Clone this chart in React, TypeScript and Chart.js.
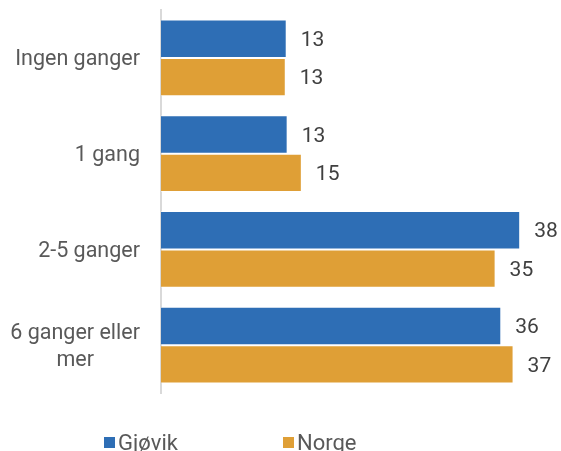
import React, { useEffect, useRef } from "react";
import { Chart, registerables } from "chart.js";

Chart.register(...registerables);

const categories: (string | string[])[] = [
  "Ingen ganger",
  "1 gang",
  "2-5 ganger",
  ["6 ganger eller", "mer"],
];
const gjovikValues = [13.3, 13.4, 38.0, 36.0];
const norgeValues = [13.2, 14.9, 35.4, 37.3];
const seriesNames = ["Gjøvik", "Norge"];
const seriesColors = ["#2E6EB5", "#DF9F36"];

const FONT = "Roboto, 'DejaVu Sans', sans-serif";

const labelsPlugin = {
  id: "customLabels",
  afterDraw(chart: any) {
    const ctx = chart.ctx;
    const yScale = chart.scales.y;
    ctx.save();
    // category labels
    ctx.font = `21.5px ${FONT}`;
    ctx.fillStyle = "#595959";
    ctx.textBaseline = "middle";
    ctx.textAlign = "center";
    const rightEdge = 140;
    const lineH = 27;
    categories.forEach((cat, i) => {
      const lines = Array.isArray(cat) ? cat : [cat];
      const maxW = Math.max(...lines.map((l) => ctx.measureText(l).width));
      const cx = rightEdge - maxW / 2;
      const yc = yScale.getPixelForTick(i) + 2;
      const y0 = yc - ((lines.length - 1) * lineH) / 2;
      lines.forEach((l, j) => ctx.fillText(l, cx, y0 + j * lineH));
    });
    // value labels
    ctx.font = `21px ${FONT}`;
    ctx.fillStyle = "#404040";
    ctx.textAlign = "left";
    chart.data.datasets.forEach((ds: any, di: number) => {
      const meta = chart.getDatasetMeta(di);
      meta.data.forEach((bar: any, i: number) => {
        const v = ds.data[i];
        ctx.fillText(String(Math.round(v)), bar.x + 14, bar.y + 2);
      });
    });
    // legend
    ctx.font = `22px ${FONT}`;
    const starts = [104, 283];
    const legendY = 444;
    chart.data.datasets.forEach((ds: any, di: number) => {
      const x = starts[di];
      ctx.fillStyle = ds.backgroundColor;
      ctx.fillRect(x, legendY - 7, 11, 11);
      ctx.fillStyle = "#595959";
      ctx.textAlign = "left";
      ctx.fillText(ds.label, x + 14, legendY);
    });
    ctx.restore();
  },
};

export default function App() {
  const ref = useRef<HTMLCanvasElement>(null);
  useEffect(() => {
    if (!ref.current) return;
    const chart = new Chart(ref.current, {
      type: "bar",
      data: {
        labels: categories as any,
        datasets: [
          {
            label: seriesNames[0],
            data: gjovikValues,
            backgroundColor: seriesColors[0],
            borderColor: "rgba(255,255,255,0.5)",
            borderWidth: 1,
            categoryPercentage: 0.8,
            barPercentage: 1,
          },
          {
            label: seriesNames[1],
            data: norgeValues,
            backgroundColor: seriesColors[1],
            borderColor: "rgba(255,255,255,0.5)",
            borderWidth: 1,
            categoryPercentage: 0.8,
            barPercentage: 1,
          },
        ],
      },
      options: {
        indexAxis: "y",
        responsive: false,
        animation: false,
        layout: { padding: { top: 10, bottom: 58, left: 0, right: 3 } },
        plugins: {
          legend: { display: false },
          tooltip: { enabled: false },
        },
        scales: {
          x: { display: false, min: 0, max: 42 },
          y: {
            grid: { display: false },
            border: { display: true, color: "#D9D9D9", width: 2 },
            ticks: { display: false },
            afterFit: (scale: any) => {
              scale.width = 161;
            },
          },
        },
      },
      plugins: [labelsPlugin],
    });
    return () => chart.destroy();
  }, []);
  return (
    <div style={{ position: "absolute", left: 0, top: 0, width: 561, height: 451, background: "#fff" }}>
      <canvas ref={ref} width={561} height={451} style={{ display: "block" }} />
    </div>
  );
}
